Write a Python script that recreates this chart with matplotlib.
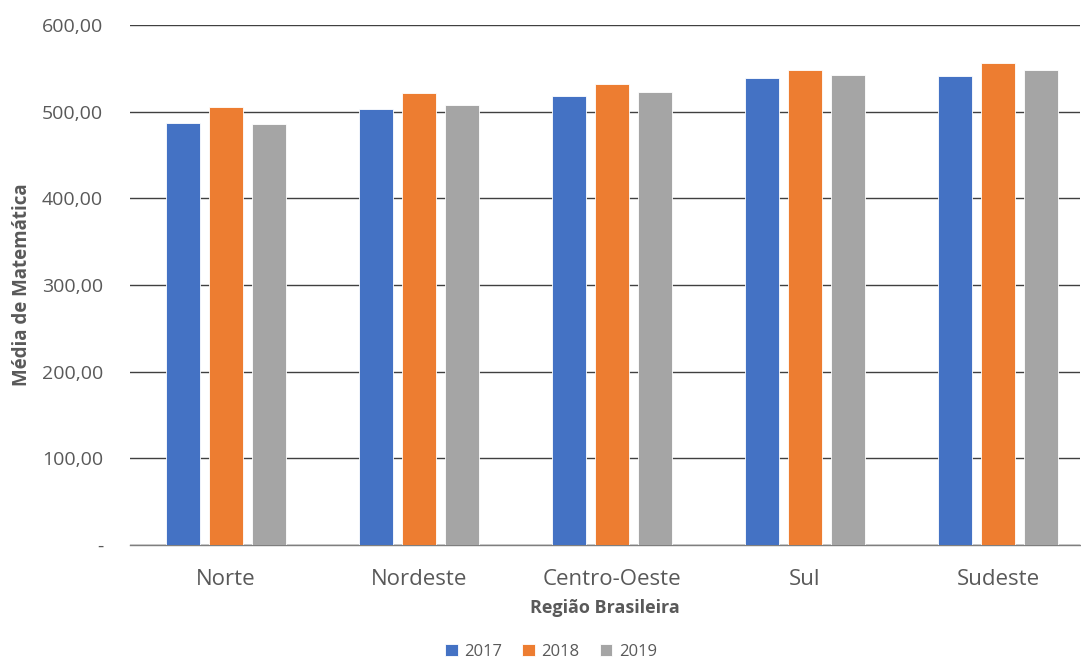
import numpy as np
import matplotlib
matplotlib.use("Agg")
import matplotlib.pyplot as plt
from matplotlib.ticker import FuncFormatter

plt.rcParams['font.family'] = ['Open Sans', 'DejaVu Sans']

regioes = ['Norte', 'Nordeste', 'Centro-Oeste', 'Sul', 'Sudeste']
anos = ['2017', '2018', '2019']
media_2017 = [487.0, 502.7, 517.7, 538.5, 540.8]
media_2018 = [505.7, 521.2, 531.9, 548.0, 556.5]
media_2019 = [485.4, 507.3, 522.3, 542.7, 548.0]
cores = ['#4472C4', '#ED7D31', '#A5A5A5']

def fmt_valor(v, pos):
    if abs(v) < 1e-9:
        return '-'
    return f'{v:.2f}'.replace('.', ',')

fig = plt.figure(figsize=(10.81, 6.59), dpi=100)
# area do grafico em pixels: esquerda 129.5, base 545, topo 25
ax = fig.add_axes([129.5 / 1081, 1 - 545 / 659, (1080 - 129.5) / 1081, 520 / 659])

x = np.arange(len(regioes))
largura = 0.176
passo = 0.223
for i, (serie, cor, ano) in enumerate(zip([media_2017, media_2018, media_2019], cores, anos)):
    ax.bar(x + (i - 1) * passo, serie, width=largura, color=cor, label=ano,
           edgecolor='white', linewidth=0.6, zorder=3)

ax.set_ylim(0, 600)
ax.set_yticks(np.arange(0, 601, 100))
ax.yaxis.set_major_formatter(FuncFormatter(fmt_valor))
ax.set_xlim(-0.5, (1080 - 129.5) / 193 - 0.5)
ax.set_xticks(x)
ax.set_xticklabels(regioes)

ax.grid(axis='y', color='#404040', linewidth=1.0, zorder=0)
for s in ['top', 'right', 'left']:
    ax.spines[s].set_visible(False)
ax.spines['bottom'].set_color('#7f7f7f')
ax.spines['bottom'].set_linewidth(1.0)

ax.tick_params(axis='y', length=0, pad=19, labelsize=14, labelcolor='#595959')
ax.tick_params(axis='x', length=0, pad=17, labelsize=16, labelcolor='#595959')

ax.set_xlabel('Região Brasileira', fontsize=13, fontweight='bold', color='#595959', labelpad=7)
ax.set_ylabel('Média de Matemática', fontsize=13.5, fontweight='bold', color='#595959', labelpad=7)

ax.legend(loc='center', bbox_to_anchor=((551 - 129.5) / 950.5, -(652 - 545) / 520),
          ncol=3, frameon=False, fontsize=12, handlelength=0.75, handleheight=0.75,
          handletextpad=0.4, columnspacing=1.2, labelcolor='#595959')

fig.savefig('out.png', dpi=100)
